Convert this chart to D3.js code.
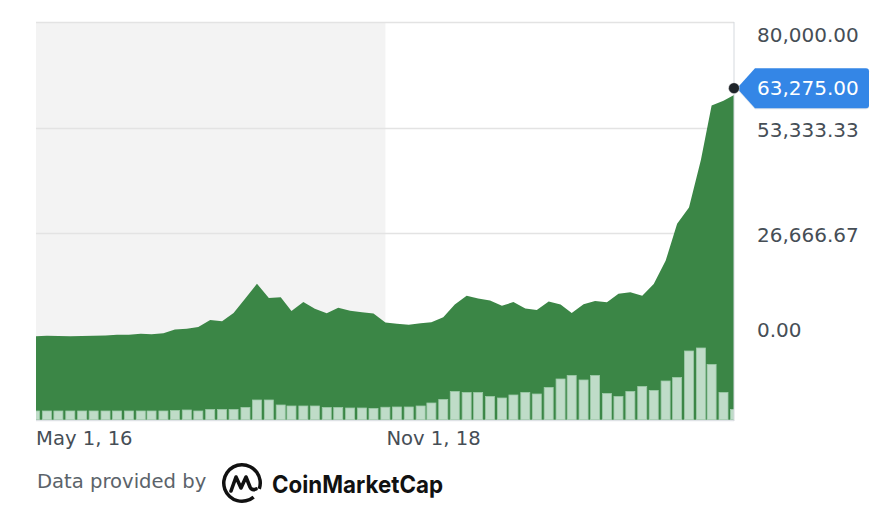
<!DOCTYPE html>
<html>
<head>
<meta charset="utf-8">
<script src="https://cdn.jsdelivr.net/npm/d3@7"></script>
<style>
  html, body { margin: 0; padding: 0; background: #fff; }
  svg { display: block; font-family: "DejaVu Sans", sans-serif; }
</style>
</head>
<body>
<svg id="chart" width="892" height="514"></svg>
<script>
// ---- data (monthly, starting May 1, 2016) ----
const startMonth = new Date(2016, 4, 1);
const prices = [530, 670, 620, 580, 610, 700, 740, 960, 970, 1190, 1070, 1350,
  2290, 2480, 2880, 4700, 4340, 6470, 10200, 13860, 10220, 10400, 6970, 9240,
  7490, 6400, 7780, 7040, 6630, 6320, 4020, 3740, 3460, 3850, 4110, 5350,
  8570, 10820, 10090, 9630, 8290, 9200, 7570, 7190, 9350, 8600, 6440, 8660,
  9460, 9140, 11320, 11680, 10780, 13780, 19630, 29000, 33110, 45140, 58920, 60100, 61700];
const volumes = [170, 170, 170, 170, 170, 170, 170, 170, 170, 170, 170, 170,
  180, 190, 170, 200, 200, 200, 240, 390, 390, 290, 270, 270,
  270, 240, 240, 230, 230, 220, 245, 250, 250, 270, 330, 400,
  560, 540, 540, 460, 430, 490, 540, 510, 640, 810, 880, 790,
  880, 520, 460, 560, 660, 580, 770, 840, 1370, 1430, 1100, 540, 200];
const currentPrice = 63275;
const yTicks = [0, 26666.67, 53333.33, 80000];
const xTicks = [new Date(2016, 4, 1), new Date(2018, 10, 1)];
const sourceText = "Data provided by";
const sourceName = "CoinMarketCap";

const dates = prices.map((_, i) => d3.timeMonth.offset(startMonth, i));
const rows = prices.map((p, i) => ({ date: dates[i], price: p, volume: volumes[i] }));

// ---- layout ----
const plotL = 36, plotR = 734, plotT = 22, plotB = 420;
const svg = d3.select("#chart");

const x = d3.scaleTime()
  .domain([startMonth, d3.timeMonth.offset(startMonth, 60)])
  .range([35, 735]);
const y = d3.scaleLinear().domain([0, 80000]).range([338.5, plotT]);
const yVol = d3.scaleLinear().domain([0, 1500]).range([plotB - 0.5, plotB - 75.5]);

svg.append("defs").append("clipPath").attr("id", "plotClip")
  .append("rect").attr("x", plotL).attr("y", plotT)
  .attr("width", plotR - plotL).attr("height", plotB - plotT);

// alternating band
svg.append("rect")
  .attr("x", plotL).attr("y", plotT)
  .attr("width", x(xTicks[1]) - plotL).attr("height", plotB - plotT)
  .attr("fill", "#f3f3f3");

// gridlines
svg.append("g").selectAll("line").data(yTicks.filter(t => t > 0)).join("line")
  .attr("x1", plotL).attr("x2", plotR)
  .attr("y1", d => Math.round(y(d)) + 0.5).attr("y2", d => Math.round(y(d)) + 0.5)
  .attr("stroke", "#e3e3e3").attr("stroke-width", 1.5);

const plot = svg.append("g").attr("clip-path", "url(#plotClip)");

// price area
const area = d3.area()
  .x(d => x(d.date))
  .y0(plotB)
  .y1(d => y(d.price));
plot.append("path").datum(rows)
  .attr("d", area)
  .attr("fill", "#3b8646");

// volume bars
plot.append("g").selectAll("rect").data(rows).join("rect")
  .attr("x", d => x(d.date) - 4.5)
  .attr("width", 9)
  .attr("y", d => yVol(d.volume))
  .attr("height", d => yVol(0) - yVol(d.volume))
  .attr("fill", "#bfdcc8")
  .attr("stroke", "#9fcbaa")
  .attr("stroke-width", 0.8);

// plot borders
svg.append("line").attr("x1", plotL).attr("x2", plotR).attr("y1", plotB + 0.5).attr("y2", plotB + 0.5)
  .attr("stroke", "#dfe2e6").attr("stroke-width", 1.5);
svg.append("line").attr("x1", plotR).attr("x2", plotR).attr("y1", plotT).attr("y2", plotB + 1)
  .attr("stroke", "#d5d9de").attr("stroke-width", 1);

// y labels
svg.append("g").selectAll("text").data(yTicks).join("text")
  .attr("x", 757)
  .attr("y", d => Math.max(35, Math.min(330, y(d) + 2)))
  .attr("dominant-baseline", "central")
  .attr("font-size", 20)
  .attr("fill", "#464e56")
  .text(d => d3.format(",.2f")(d));

// x labels
svg.append("g").selectAll("text").data(xTicks).join("text")
  .attr("x", d => x(d) + 1)
  .attr("y", 445)
  .attr("font-size", 19.6)
  .attr("fill", "#464e56")
  .text(d => d3.timeFormat("%b %-d, %y")(d));

// current price marker
const cy = y(currentPrice);
const tag = svg.append("g");
tag.append("path")
  .attr("d", `M${737},${cy + 1} L755,${cy - 19} L866,${cy - 19} Q869,${cy - 19} 869,${cy - 16} L869,${cy + 18} Q869,${cy + 21} 866,${cy + 21} L755,${cy + 21} Z`)
  .attr("fill", "#dfe3ea");
tag.append("path")
  .attr("d", `M${737},${cy} L755,${cy - 20} L866,${cy - 20} Q869,${cy - 20} 869,${cy - 17} L869,${cy + 17} Q869,${cy + 20} 866,${cy + 20} L755,${cy + 20} Z`)
  .attr("fill", "#3486e6");
tag.append("text")
  .attr("x", 757).attr("y", cy)
  .attr("dominant-baseline", "central")
  .attr("font-size", 20).attr("fill", "#fff")
  .text(d3.format(",.2f")(currentPrice));
svg.append("circle").attr("cx", plotR).attr("cy", cy).attr("r", 5.5)
  .attr("fill", "#1f2429").attr("stroke", "#fff").attr("stroke-width", 0.5);

// footer
svg.append("text").attr("x", 37).attr("y", 488)
  .attr("font-size", 19.6).attr("fill", "#5b636a")
  .text(sourceText);
const logo = svg.append("g").attr("transform", "translate(242,483)");
logo.append("path")
  .attr("d", d3.arc()({ innerRadius: 16.5, outerRadius: 20, startAngle: 2.45, endAngle: 2.45 + 2 * Math.PI - 0.55 }))
  .attr("fill", "#111");
logo.append("path")
  .attr("d", "M-11,8 L-6,-6 L-1,5 L4,-6 L8,4 Q10,8 14,6")
  .attr("fill", "none").attr("stroke", "#111").attr("stroke-width", 3.6)
  .attr("stroke-linejoin", "round").attr("stroke-linecap", "round");
svg.append("text").attr("x", 272).attr("y", 493)
  .attr("font-size", 24).attr("font-weight", "bold").attr("fill", "#111")
  .attr("font-family", "Inter, 'DejaVu Sans', sans-serif")
  .attr("textLength", 171).attr("lengthAdjust", "spacingAndGlyphs")
  .text(sourceName);
</script>
</body>
</html>
